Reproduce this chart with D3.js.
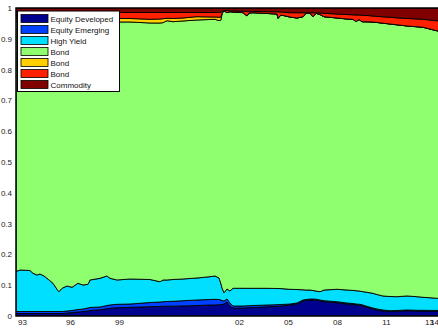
<!DOCTYPE html>
<html>
<head>
<meta charset="utf-8">
<script src="https://cdn.jsdelivr.net/npm/d3@7"></script>
<style>
  html, body { margin: 0; padding: 0; background: #fff; overflow: hidden; }
  svg { display: block; }
  text { font-family: "Liberation Sans", Arial, Helvetica, sans-serif; }
</style>
</head>
<body>
<svg id="chart" width="438" height="329"></svg>
<script>
// Observation index along the horizontal axis
const obs = [0, 4, 14, 17, 21, 24, 28, 31, 37, 41, 43, 46, 51, 56, 62, 67, 72, 74, 84, 91,
  94, 101, 114, 134, 144, 147, 151, 157, 167, 181, 194, 199, 203, 205, 206, 208, 211, 214, 217, 227,
  231, 233, 237, 251, 261, 262, 265, 274, 281, 287, 290, 294, 297, 300, 304, 308, 321, 331, 337, 340,
  343, 346, 351, 357, 361, 367, 374, 381, 391, 401, 407, 414, 424];

// Portfolio weights per asset class
const equityDeveloped = [0.0081, 0.0081, 0.0081, 0.0081, 0.0081, 0.0081, 0.0081, 0.0081, 0.0081, 0.0081,
  0.0081, 0.0081, 0.0097, 0.0114, 0.0130, 0.0146, 0.0162, 0.0179, 0.0201, 0.0234,
  0.0253, 0.0270, 0.0282, 0.0302, 0.0308, 0.0315, 0.0318, 0.0318, 0.0325, 0.0341,
  0.0357, 0.0357, 0.0367, 0.0367, 0.0373, 0.0390, 0.0455, 0.0325, 0.0260, 0.0260,
  0.0266, 0.0269, 0.0276, 0.0299, 0.0315, 0.0318, 0.0325, 0.0357, 0.0390, 0.0487,
  0.0503, 0.0519, 0.0519, 0.0513, 0.0487, 0.0464, 0.0432, 0.0390, 0.0373, 0.0357,
  0.0351, 0.0334, 0.0282, 0.0227, 0.0195, 0.0162, 0.0140, 0.0153, 0.0172, 0.0162,
  0.0162, 0.0162, 0.0162];

const equityEmerging = [0.0065, 0.0065, 0.0065, 0.0065, 0.0065, 0.0065, 0.0065, 0.0065, 0.0065, 0.0065,
  0.0065, 0.0065, 0.0065, 0.0065, 0.0081, 0.0081, 0.0097, 0.0097, 0.0091, 0.0107,
  0.0104, 0.0110, 0.0107, 0.0136, 0.0146, 0.0149, 0.0153, 0.0159, 0.0172, 0.0179,
  0.0179, 0.0185, 0.0169, 0.0153, 0.0130, 0.0097, 0.0097, 0.0097, 0.0065, 0.0065,
  0.0065, 0.0065, 0.0065, 0.0058, 0.0052, 0.0052, 0.0049, 0.0032, 0.0032, 0.0032,
  0.0032, 0.0032, 0.0032, 0.0032, 0.0032, 0.0032, 0.0032, 0.0032, 0.0032, 0.0032,
  0.0032, 0.0032, 0.0032, 0.0032, 0.0032, 0.0032, 0.0032, 0.0026, 0.0023, 0.0023,
  0.0023, 0.0019, 0.0019];

const highYield = [0.1299, 0.1347, 0.1331, 0.1240, 0.1185, 0.1218, 0.1153, 0.1078, 0.0916, 0.0721,
  0.0643, 0.0753, 0.0812, 0.0753, 0.0851, 0.0779, 0.0770, 0.0893, 0.0932, 0.0958,
  0.0867, 0.0789, 0.0812, 0.0747, 0.0659, 0.0705, 0.0698, 0.0708, 0.0705, 0.0714,
  0.0740, 0.0757, 0.0698, 0.0519, 0.0406, 0.0269, 0.0325, 0.0390, 0.0575, 0.0575,
  0.0568, 0.0565, 0.0558, 0.0542, 0.0526, 0.0523, 0.0516, 0.0477, 0.0438, 0.0331,
  0.0308, 0.0292, 0.0276, 0.0266, 0.0269, 0.0347, 0.0403, 0.0422, 0.0425, 0.0432,
  0.0429, 0.0429, 0.0455, 0.0477, 0.0471, 0.0455, 0.0461, 0.0448, 0.0455, 0.0442,
  0.0422, 0.0412, 0.0386];

const bondA = [0.8133, 0.8085, 0.8101, 0.8192, 0.8247, 0.8215, 0.8280, 0.8355, 0.8517, 0.8712,
  0.8790, 0.8679, 0.8604, 0.8647, 0.8517, 0.8572, 0.8549, 0.8410, 0.8338, 0.8264,
  0.8338, 0.8377, 0.8345, 0.8329, 0.8400, 0.8355, 0.8419, 0.8371, 0.8377, 0.8377,
  0.8351, 0.8335, 0.8355, 0.8572, 0.8913, 0.9156, 0.8971, 0.9068, 0.8971, 0.8949,
  0.8841, 0.8939, 0.8949, 0.8923, 0.8913, 0.8773, 0.8884, 0.8841, 0.8815, 0.8867,
  0.8984, 0.8984, 0.8890, 0.9017, 0.9000, 0.8874, 0.8809, 0.8799, 0.8802, 0.8734,
  0.8815, 0.8760, 0.8783, 0.8809, 0.8832, 0.8858, 0.8848, 0.8828, 0.8767, 0.8764,
  0.8767, 0.8725, 0.8669];

const bondB = [0.0097, 0.0097, 0.0097, 0.0097, 0.0097, 0.0097, 0.0097, 0.0097, 0.0097, 0.0097,
  0.0097, 0.0097, 0.0097, 0.0097, 0.0097, 0.0097, 0.0097, 0.0097, 0.0097, 0.0097,
  0.0097, 0.0114, 0.0114, 0.0120, 0.0130, 0.0130, 0.0078, 0.0104, 0.0097, 0.0107,
  0.0081, 0.0075, 0.0110, 0.0097, 0, 0, 0, 0, 0, 0,
  0, 0, 0, 0, 0, 0, 0, 0, 0, 0,
  0, 0, 0, 0, 0, 0, 0, 0, 0, 0,
  0, 0, 0, 0, 0, 0, 0, 0, 0, 0,
  0, 0, 0];

const bondC = [0.0211, 0.0211, 0.0211, 0.0211, 0.0211, 0.0211, 0.0211, 0.0211, 0.0211, 0.0211,
  0.0211, 0.0211, 0.0211, 0.0195, 0.0195, 0.0195, 0.0195, 0.0195, 0.0211, 0.0211,
  0.0195, 0.0195, 0.0195, 0.0221, 0.0211, 0.0201, 0.0188, 0.0195, 0.0179, 0.0136,
  0.0146, 0.0146, 0.0156, 0.0146, 0.0081, 0.0006, 0.0071, 0.0029, 0.0032, 0.0045,
  0.0149, 0.0052, 0.0039, 0.0058, 0.0071, 0.0211, 0.0097, 0.0140, 0.0172, 0.0130,
  0.0019, 0.0019, 0.0127, 0.0016, 0.0052, 0.0110, 0.0130, 0.0146, 0.0146, 0.0218,
  0.0146, 0.0211, 0.0205, 0.0195, 0.0198, 0.0208, 0.0218, 0.0227, 0.0244, 0.0253,
  0.0260, 0.0292, 0.0341];

const commodity = [0.0114, 0.0114, 0.0114, 0.0114, 0.0114, 0.0114, 0.0114, 0.0114, 0.0114, 0.0114,
  0.0114, 0.0114, 0.0114, 0.0130, 0.0130, 0.0130, 0.0130, 0.0130, 0.0130, 0.0130,
  0.0146, 0.0146, 0.0146, 0.0146, 0.0146, 0.0146, 0.0146, 0.0146, 0.0146, 0.0146,
  0.0146, 0.0146, 0.0146, 0.0146, 0.0097, 0.0081, 0.0081, 0.0091, 0.0097, 0.0107,
  0.0110, 0.0110, 0.0114, 0.0120, 0.0123, 0.0123, 0.0130, 0.0153, 0.0153, 0.0153,
  0.0153, 0.0153, 0.0156, 0.0156, 0.0159, 0.0172, 0.0195, 0.0211, 0.0221, 0.0227,
  0.0227, 0.0234, 0.0244, 0.0260, 0.0273, 0.0286, 0.0302, 0.0318, 0.0341, 0.0357,
  0.0367, 0.0390, 0.0422];

const seriesNames = ["Equity Developed", "Equity Emerging", "High Yield", "Bond", "Bond", "Bond", "Commodity"];
const seriesColors = ["#00008f", "#0040ff", "#00dfff", "#8fff70", "#ffcf00", "#ff2000", "#800000"];
const seriesValues = [equityDeveloped, equityEmerging, highYield, bondA, bondB, bondC, commodity];

const yTicks = [0, 0.1, 0.2, 0.3, 0.4, 0.5, 0.6, 0.7, 0.8, 0.9, 1];
const xTickObs = [6, 54, 103, 223, 272, 321, 370, 413, 418];
const xTickLabels = ["93", "96", "99", "02", "05", "08", "11", "13", "14"];

// Plot frame
const plot = { left: 16, top: 8, right: 440, bottom: 316 };

const svg = d3.select("#chart");

const x = d3.scaleLinear().domain([0, 424]).range([plot.left, plot.right]);
const y = d3.scaleLinear().domain([0, 1]).range([plot.bottom, plot.top]);

// One row per observation, one column per series index
const keys = seriesValues.map((_, k) => k);
const rows = obs.map((o, i) => {
  const r = { obs: o };
  keys.forEach(k => { r[k] = seriesValues[k][i]; });
  return r;
});
const stacked = d3.stack().keys(keys)(rows);

svg.append("defs").append("clipPath").attr("id", "plotClip")
  .append("rect")
  .attr("x", plot.left).attr("y", plot.top)
  .attr("width", plot.right - plot.left).attr("height", plot.bottom - plot.top);

const area = d3.area()
  .x(d => x(d.data.obs))
  .y0(d => y(d[0]))
  .y1(d => y(d[1]));

svg.append("g").attr("clip-path", "url(#plotClip)")
  .selectAll("path")
  .data(stacked)
  .join("path")
  .attr("d", area)
  .attr("fill", d => seriesColors[d.key])
  .attr("stroke", "#000")
  .attr("stroke-width", 0.9)
  .attr("stroke-linejoin", "round");

// Axes box (left, top, bottom)
svg.append("path")
  .attr("d", `M${plot.right},${plot.top}H${plot.left}V${plot.bottom}H${plot.right}`)
  .attr("fill", "none")
  .attr("stroke", "#000")
  .attr("stroke-width", 1.5);

const yAxis = svg.append("g")
  .attr("transform", `translate(${plot.left},0)`)
  .call(d3.axisLeft(y).tickValues(yTicks).tickSize(0).tickPadding(4).tickFormat(d3.format("")));
yAxis.select(".domain").remove();
yAxis.selectAll("text").attr("font-size", 8).attr("fill", "#222")
  .attr("font-family", "'Liberation Sans', Arial, sans-serif");

const xAxis = svg.append("g")
  .attr("transform", `translate(0,${plot.bottom})`)
  .call(d3.axisBottom(x).tickValues(xTickObs).tickSize(0).tickPadding(3)
    .tickFormat((d, i) => xTickLabels[i]));
xAxis.select(".domain").remove();
xAxis.selectAll("text").attr("font-size", 8).attr("fill", "#222")
  .attr("font-family", "'Liberation Sans', Arial, sans-serif");

// Legend
const legend = svg.append("g").attr("transform", "translate(17.5,11)");
legend.append("rect")
  .attr("width", 102).attr("height", 80.5)
  .attr("fill", "#fff").attr("stroke", "#000").attr("stroke-width", 1);

const item = legend.selectAll("g.item")
  .data(seriesNames)
  .join("g")
  .attr("class", "item")
  .attr("transform", (d, i) => `translate(0,${7 + i * 11})`);
item.append("rect")
  .attr("x", 3.5).attr("y", -3.5).attr("width", 27).attr("height", 8)
  .attr("fill", (d, i) => seriesColors[i])
  .attr("stroke", "#000").attr("stroke-width", 0.8);
item.append("text")
  .attr("x", 33).attr("y", 3.5)
  .attr("font-size", 8)
  .attr("fill", "#111")
  .text(d => d);
</script>
</body>
</html>
